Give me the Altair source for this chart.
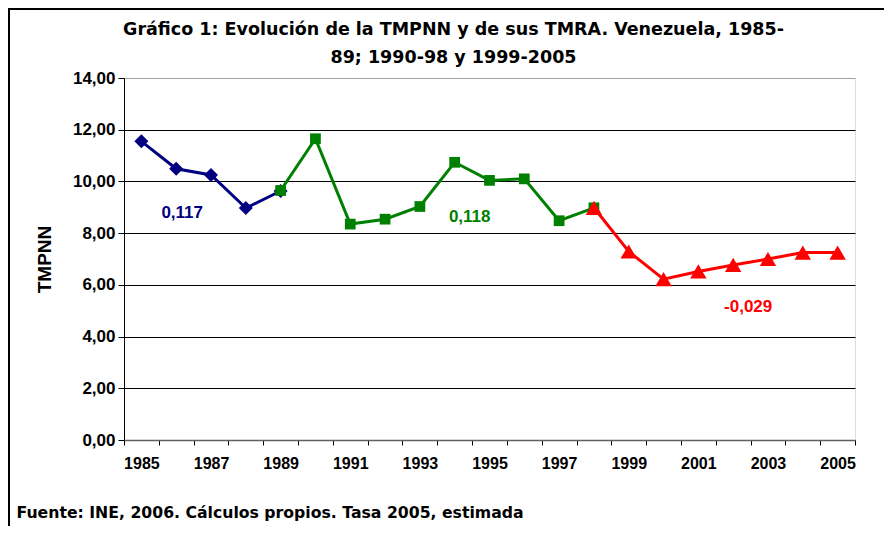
import altair as alt
import pandas as pd

# ---- data ----
series_names = ["1985-89", "1990-98", "1999-2005"]
years_a = [1985, 1986, 1987, 1988, 1989]
tmpnn_a = [11.55, 10.49, 10.25, 8.97, 9.63]
years_b = [1989, 1990, 1991, 1992, 1993, 1994, 1995, 1996, 1997, 1998]
tmpnn_b = [9.65, 11.65, 8.35, 8.54, 9.03, 10.74, 10.04, 10.10, 8.48, 8.98]
years_c = [1998, 1999, 2000, 2001, 2002, 2003, 2004, 2005]
tmpnn_c = [8.98, 7.29, 6.22, 6.52, 6.77, 7.00, 7.25, 7.25]

colors = ["#000080", "#008000", "#ff0000"]
shapes = ["diamond", "square", "triangle-up"]
sizes = [196, 115, 270]

ann_labels = ["0,117", "0,118", "-0,029"]
ann_years = [1986, 1994, 2002]
ann_values = [8.77, 8.61, 5.13]
ann_dx = [6, 15, 15]

title_lines = ["Gráfico 1: Evolución de la TMPNN y de sus TMRA. Venezuela, 1985-",
               "89; 1990-98 y 1999-2005"]
footer = "Fuente: INE, 2006. Cálculos propios. Tasa 2005, estimada"
y_ticks = [0, 2, 4, 6, 8, 10, 12, 14]

rows = []
for name, ys, vs in zip(series_names, [years_a, years_b, years_c], [tmpnn_a, tmpnn_b, tmpnn_c]):
    for y, v in zip(ys, vs):
        rows.append({"year": y, "tmpnn": v, "serie": name})
df = pd.DataFrame(rows)

FONT = "Liberation Sans"

x_enc = alt.X(
    "year:O",
    scale=alt.Scale(type="band", paddingInner=0, paddingOuter=0),
    axis=alt.Axis(
        tickBand="extent",
        labelAngle=0,
        labelExpr="datum.value % 2 == 1 ? datum.label : ''",
        labelOverlap=False,
        labelFont=FONT, labelFontSize=16, labelFontWeight="bold", labelColor="black",
        labelPadding=10,
        tickColor="black", tickSize=5,
        domainColor="#606060", domainWidth=1.5,
        grid=False,
        title=footer,
        titleFont="DejaVu Sans", titleFontSize=15.7, titleFontWeight="bold", titleColor="black",
        titleX=-108, titleY=77, titleAlign="left", titleBaseline="alphabetic",
        titleAnchor="start",
    ),
)

y_enc = alt.Y(
    "tmpnn:Q",
    scale=alt.Scale(domain=[0, 14], nice=False, zero=True),
    axis=alt.Axis(
        values=y_ticks,
        labelExpr="replace(format(datum.value, '.2f'), '.', ',')",
        labelFont=FONT, labelFontSize=17, labelFontWeight="bold", labelColor="black",
        labelPadding=3,
        tickColor="black", tickSize=6,
        domainColor="black", domainWidth=1,
        grid=True,
        gridColor={"condition": {"test": "datum.value == 14", "value": "#a0a0a0"}, "value": "black"},
        gridWidth=1,
        title="TMPNN",
        titleFont=FONT, titleFontSize=19, titleFontWeight="bold", titleColor="black",
        titleAngle=270, titleX=-80, titleY=181, titleAlign="center", titleBaseline="middle",
    ),
)

base = alt.Chart(df)

layers = []
for name, col, shp, sz in zip(series_names, colors, shapes, sizes):
    sub = base.transform_filter(alt.datum.serie == name)
    layers.append(
        sub.mark_line(strokeWidth=3, color=col).encode(x=x_enc, y=y_enc)
    )
    layers.append(
        sub.mark_point(filled=True, opacity=1, strokeWidth=0, color=col,
                       shape=shp, size=sz).encode(x=x_enc, y=y_enc)
    )

for lab, yr, val, dx, col in zip(ann_labels, ann_years, ann_values, ann_dx, colors):
    adf = pd.DataFrame({"year": [yr], "tmpnn": [val], "label": [lab]})
    layers.append(
        alt.Chart(adf).mark_text(
            font=FONT, fontSize=17, fontWeight="bold", color=col,
            align="center", baseline="middle", dx=dx,
        ).encode(x=x_enc, y=y_enc, text="label:N")
    )

frame = alt.Chart(pd.DataFrame({"f": [0]})).mark_rect(
    filled=False, stroke="black", strokeWidth=2, fill=None
).encode(
    x=alt.value(-115), x2=alt.value(900), y=alt.value(-69), y2=alt.value(700)
)
layers.append(frame)

chart = alt.layer(*layers).properties(
    width=731,
    height=362,
    title=alt.TitleParams(
        title_lines, font="DejaVu Sans", fontSize=17.5, fontWeight="bold", color="black",
        anchor="middle", dx=-36, lineHeight=28, offset=0, baseline="top", dy=58,
    ),
    autosize=alt.AutoSizeParams(type="none"),
    padding={"left": 116, "top": 70, "right": 29, "bottom": 86},
).configure_view(
    stroke="#a0a0a0", strokeWidth=2
).configure(background="white")

chart.save("out.html", embed_options={"renderer": "svg", "actions": False})
